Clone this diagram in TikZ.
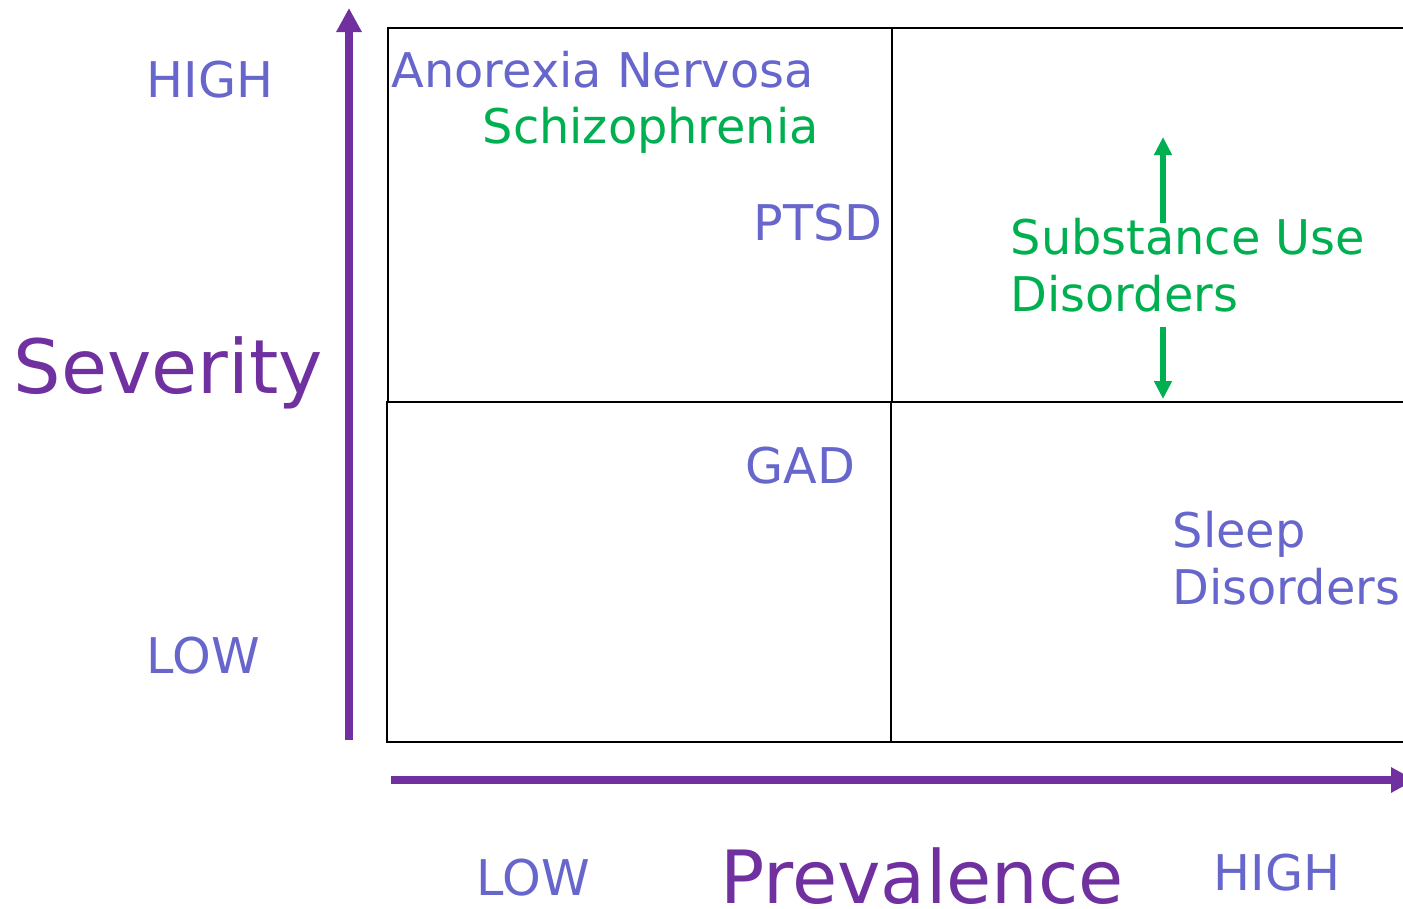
\documentclass[tikz,border=0pt]{standalone}
\usepackage{fontspec}
\setmainfont{DejaVu Sans}
\usetikzlibrary{arrows.meta}
\definecolor{axispurple}{RGB}{112,48,160}
\definecolor{labelblue}{RGB}{102,102,204}
\definecolor{labelgreen}{RGB}{0,176,80}

\begin{document}
\begin{tikzpicture}[
  axis/.style={axispurple, line width=0.08cm, -{Triangle[width=0.24cm,length=0.24cm]}},
  moveline/.style={labelgreen, line width=0.055cm, -{Triangle[width=0.17cm,length=0.18cm]}},
  cell/.style={black, line width=0.6pt},
  lbl/.style={anchor=base west, inner sep=0pt, font=\fontsize{13.6}{16}\selectfont, align=left},
  caps/.style={anchor=base west, inner sep=0pt, font=\fontsize{14}{16}\selectfont, text=labelblue},
  title/.style={anchor=base west, inner sep=0pt, font=\fontsize{21.3}{24}\selectfont, text=axispurple}
]
\useasboundingbox (0,0) rectangle (14.03,9.08);

% quadrants
\draw[cell] (3.88,5.06) rectangle (8.92,8.80);
\draw[cell] (8.92,5.06) rectangle (14.40,8.80);
\draw[cell] (3.87,1.66) rectangle (8.91,5.06);
\draw[cell] (8.91,1.66) rectangle (14.40,5.06);

% axes
\coordinate (yfoot) at (3.49,1.68);
\coordinate (ytip) at (3.49,9.00);
\coordinate (xfoot) at (3.91,1.28);
\coordinate (xtip) at (14.15,1.28);
\draw[axis] (yfoot) -- (ytip);
\draw[axis] (xfoot) -- (xtip);

\node[title] (sev) at (0.13,5.15) {Severity};
\node[title, font=\fontsize{20.9}{24}\selectfont, text depth=0pt] (prev) at (7.20,0.05) {Prevalence};
\node[caps] (yhigh) at (1.46,8.11) {HIGH};
\node[caps] (ylow) at (1.46,2.35) {LOW};
\node[caps] (xlow) at (4.76,0.13) {LOW};
\node[caps] (xhigh) at (12.13,0.18) {HIGH};

% disorders
\node[lbl, text=labelblue] (anorexia) at (3.91,8.21) {Anorexia Nervosa};
\node[lbl, text=labelgreen] (schizo) at (4.82,7.65) {Schizophrenia};
\node[caps] (ptsd) at (7.53,6.68) {PTSD};
\node[lbl, text=labelgreen] (sud) at (10.10,5.97) {Substance Use\\Disorders};
\node[caps] (gad) at (7.45,4.25) {GAD};
\node[lbl, text=labelblue] (sleep) at (11.72,3.04) {Sleep\\Disorders};

% substance use can move up or down
\coordinate (sudup) at (11.63,6.85);
\coordinate (sudtop) at (11.63,7.71);
\coordinate (suddown) at (11.63,5.81);
\coordinate (sudbot) at (11.63,5.09);
\draw[moveline] (sudup) -- (sudtop);
\draw[moveline] (suddown) -- (sudbot);

\end{tikzpicture}
\end{document}
